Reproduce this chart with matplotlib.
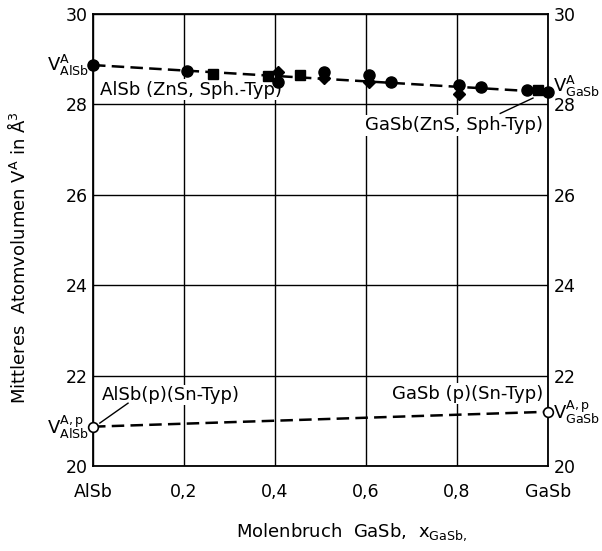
import matplotlib
matplotlib.use("Agg")
import matplotlib.pyplot as plt
import matplotlib.transforms as mtransforms

# Data
line_x = [0.0, 1.0]
line_zns = [28.87, 28.27]
line_sn = [20.87, 21.2]

circ_x = [0.0, 0.207, 0.407, 0.508, 0.607, 0.655, 0.804, 0.853, 0.954, 1.0]
circ_y = [28.87, 28.74, 28.50, 28.72, 28.65, 28.50, 28.43, 28.38, 28.32, 28.27]
sq_x = [0.264, 0.385, 0.455, 0.978]
sq_y = [28.67, 28.63, 28.65, 28.32]
dia_x = [0.407, 0.508, 0.607, 0.804]
dia_y = [28.72, 28.58, 28.50, 28.23]
open_x = [0.0, 1.0]
open_y = [20.87, 21.2]

xticks = [0.0, 0.2, 0.4, 0.6, 0.8, 1.0]
xticklabels = ["AlSb", "0,2", "0,4", "0,6", "0,8", "GaSb"]
yticks = [20, 22, 24, 26, 28, 30]

plt.rcParams['font.family'] = ['DejaVu Sans']
fig = plt.figure(figsize=(6.02, 5.51), dpi=100)
ax = fig.add_axes([93/602, 1-466/551, (548-93)/602, (466-14)/551])
ax.set_xlim(0, 1)
ax.set_ylim(20, 30)
ax.set_xticks(xticks)
ax.set_xticklabels(xticklabels)
ax.set_yticks(yticks)
ax.grid(True, color='black', linewidth=1.0)
ax.set_axisbelow(True)
for s in ax.spines.values():
    s.set_linewidth(1.3)
ax.tick_params(axis='both', length=0, labelsize=12.5)
ax.tick_params(axis='x', pad=12)
ax.tick_params(axis='y', pad=4, right=True, labelright=True)

# shift right-hand "28" label slightly down (as in reference)
for t in ax.yaxis.get_major_ticks():
    if abs(t.get_loc() - 28) < 1e-6:
        t.label2.set_transform(t.label2.get_transform() +
                               mtransforms.ScaledTranslation(0, -7/72, fig.dpi_scale_trans))

dash = (0, (5, 2.5))
ax.plot(line_x, line_zns, color='black', lw=1.8, linestyle=dash, zorder=3)
ax.plot(line_x, line_sn, color='black', lw=1.8, linestyle=dash, zorder=3)
ax.plot(circ_x, circ_y, 'o', color='black', ms=8, zorder=4, clip_on=False)
ax.plot(sq_x, sq_y, 's', color='black', ms=6.5, zorder=4, clip_on=False)
ax.plot(dia_x, dia_y, 'D', color='black', ms=6.5, zorder=4, clip_on=False)
ax.plot(open_x, open_y, 'o', mfc='white', mec='black', mew=1.2, ms=7, zorder=5, clip_on=False)

bb = dict(facecolor='white', edgecolor='none', pad=1)
fs = 13
ax.text(0.015, 28.32, "AlSb (ZnS, Sph.-Typ)", fontsize=fs, ha='left', va='center', bbox=bb, zorder=2)
ax.text(0.99, 27.54, "GaSb(ZnS, Sph-Typ)", fontsize=fs, ha='right', va='center', bbox=bb, zorder=2)
ax.text(0.02, 21.57, "AlSb(p)(Sn-Typ)", fontsize=fs, ha='left', va='center', bbox=bb, zorder=2)
ax.text(0.99, 21.6, "GaSb (p)(Sn-Typ)", fontsize=fs, ha='right', va='center', bbox=bb, zorder=2)
ax.plot([0.967, 0.895], [28.14, 27.8], color='black', lw=1.0, zorder=3)
ax.plot([0.015, 0.077], [20.95, 21.39], color='black', lw=1.0, zorder=3)

ax.text(-0.01, 28.87, r"V$^{\mathrm{A}}_{\mathrm{AlSb}}$", fontsize=fs, ha='right', va='center', clip_on=False)
ax.text(1.012, 28.12, r"V$^{\mathrm{A}}_{\mathrm{GaSb}}$", fontsize=fs, ha='left', va='bottom', clip_on=False)
ax.text(-0.01, 20.87, r"V$^{\mathrm{A,p}}_{\mathrm{AlSb}}$", fontsize=fs, ha='right', va='center', clip_on=False)
ax.text(1.012, 21.2, r"V$^{\mathrm{A,p}}_{\mathrm{GaSb}}$", fontsize=fs, ha='left', va='center', clip_on=False)

fig.text(18/602, 1-258/551, r"Mittleres  Atomvolumen V$^{\mathrm{A}}$ in Å$^{3}$", rotation=90,
         fontsize=fs, ha='center', va='center')
fig.text(352/602, 1-532/551, r"Molenbruch  GaSb,  x$_{\mathrm{GaSb,}}$", fontsize=fs, ha='center', va='center')

fig.savefig("out.png", dpi=100)
